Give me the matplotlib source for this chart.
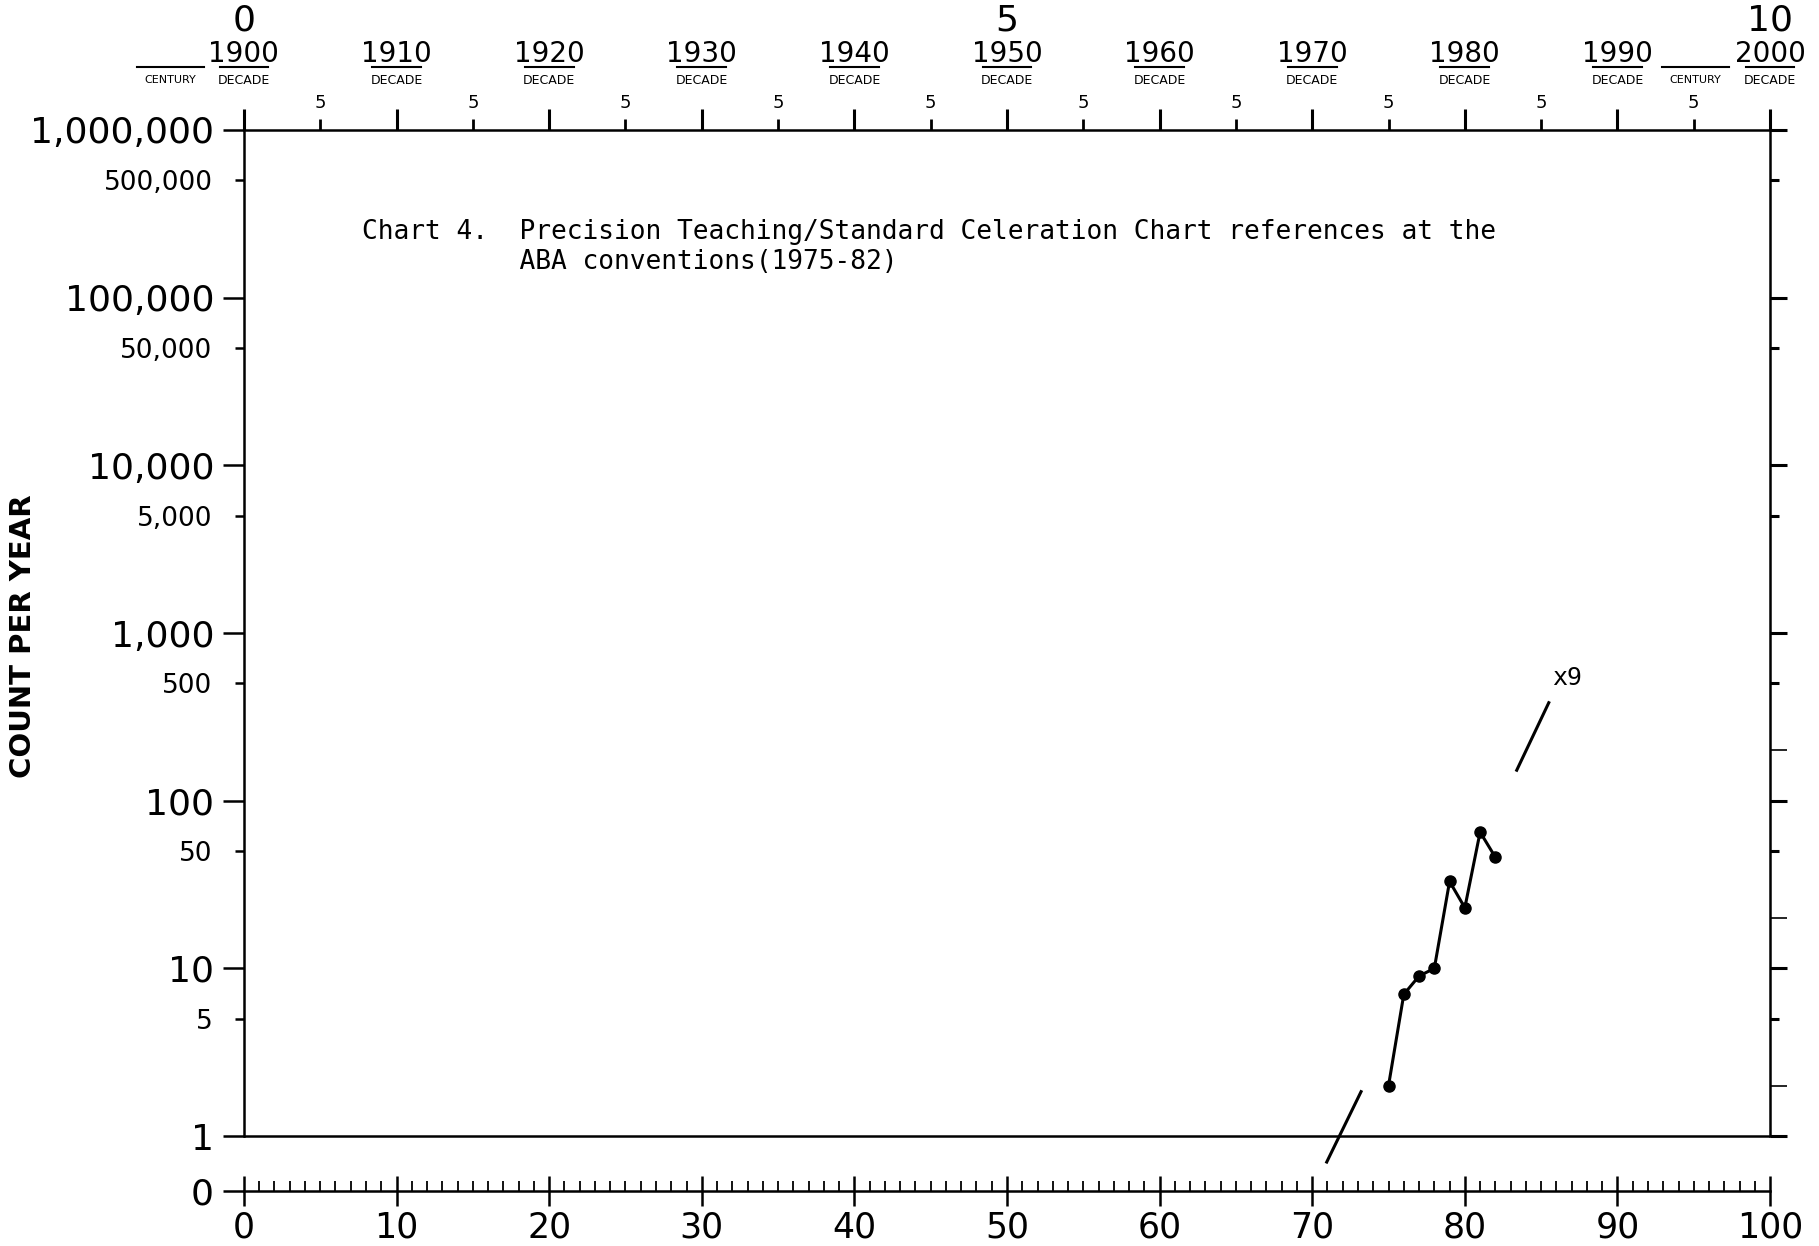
import numpy as np
import matplotlib.pyplot as plt
from matplotlib.ticker import FixedLocator, FixedFormatter, NullFormatter

# years counted from 1900, references per year at the ABA conventions
years = [75, 76, 77, 78, 79, 80, 81, 82]
counts = [2, 7, 9, 10, 33, 23, 65, 46]

# the two hand-drawn celeration line pieces and their label
cel_lower_x = [70.95, 73.2]
cel_lower_y = [0.70, 1.84]
cel_upper_x = [83.4, 85.5]
cel_upper_y = [152, 384]
cel_label = "x9"

decades = list(range(0, 101, 10))
decade_labels = [str(1900 + d) for d in decades]
century_pos = [0, 50, 100]
century_labels = ["0", "5", "10"]
halfdecades = list(range(5, 100, 10))

count_major = [1, 10, 100, 1000, 10000, 100000, 1000000]
count_major_labels = ["1", "10", "100", "1,000", "10,000", "100,000", "1,000,000"]
count_minor = [5, 50, 500, 5000, 50000, 500000]
count_minor_labels = ["5", "50", "500", "5,000", "50,000", "500,000"]
count_twos = [2, 20, 200]

title = ("Chart 4.  Precision Teaching/Standard Celeration Chart references at the\n"
         "          ABA conventions(1975-82)")

y_zero = 0.47  # where the "0" line sits under the log scale
mono = "DejaVu Sans Mono"
narrow = ["Liberation Sans Narrow", "DejaVu Sans"]

plt.rcParams['font.family'] = ['DejaVu Sans']

fig = plt.figure(figsize=(18.19, 12.46), dpi=100)
ax = fig.add_axes([0.1341, 0.0441, 0.839, 0.8516])
ax.set_yscale('log')
ax.set_xlim(0, 100)
ax.set_ylim(y_zero, 1e6)

for s in ax.spines.values():
    s.set_linewidth(1.8)
ax.spines['left'].set_bounds(1, 1e6)
ax.spines['right'].set_bounds(1, 1e6)
ax.axhline(1, color='k', lw=1.8)

# left count scale
ax.yaxis.set_ticks_position('left')
ax.yaxis.set_major_locator(FixedLocator([y_zero] + count_major))
ax.yaxis.set_major_formatter(FixedFormatter(["0"] + count_major_labels))
ax.yaxis.set_minor_locator(FixedLocator(count_minor))
ax.yaxis.set_minor_formatter(FixedFormatter(count_minor_labels))
ax.tick_params(axis='y', which='major', direction='out', length=15, width=1.8,
               pad=6.5, labelsize=26)
ax.tick_params(axis='y', which='minor', direction='out', length=6.5, width=1.8,
               pad=16, labelsize=19)

# bottom "0" line with a tick every year
ax.xaxis.set_ticks_position('bottom')
ax.xaxis.set_major_locator(FixedLocator(decades))
ax.xaxis.set_major_formatter(FixedFormatter([str(d) for d in decades]))
ax.xaxis.set_minor_locator(FixedLocator([d for d in range(101) if d % 10]))
ax.xaxis.set_minor_formatter(NullFormatter())
ax.tick_params(axis='x', which='major', direction='inout', length=22, width=1.8,
               pad=3, labelsize=25)
ax.tick_params(axis='x', which='minor', direction='in', length=7, width=1.3)

# top calendar scale
top = ax.secondary_xaxis('top')
top.spines['top'].set_visible(False)
top.xaxis.set_major_locator(FixedLocator(decades))
top.xaxis.set_major_formatter(NullFormatter())
top.xaxis.set_minor_locator(FixedLocator(halfdecades))
top.xaxis.set_minor_formatter(FixedFormatter(["5"] * len(halfdecades)))
top.tick_params(which='major', direction='out', length=15, width=2.2)
top.tick_params(which='minor', direction='out', length=8, width=2.0, pad=5,
                labelsize=13, labelfontfamily=narrow[0])

# right side ticks
for locs, minor, ln, wd in [(count_major, count_minor, 12, 2.2), (count_twos, [], 12, 1.2)]:
    tw = ax.twinx()
    tw.set_yscale('log')
    tw.set_ylim(y_zero, 1e6)
    for s in tw.spines.values():
        s.set_visible(False)
    tw.yaxis.set_major_locator(FixedLocator(locs))
    tw.yaxis.set_major_formatter(NullFormatter())
    tw.yaxis.set_minor_locator(FixedLocator(minor))
    tw.yaxis.set_minor_formatter(NullFormatter())
    tw.tick_params(which='major', direction='out', length=ln, width=wd)
    tw.tick_params(which='minor', direction='out', length=6.5, width=2.2)

trans = ax.get_xaxis_transform()
for d, lab in zip(decades, decade_labels):
    ax.text(d, 1.072, lab, transform=trans, ha='center', va='center',
            fontsize=20, family=narrow, clip_on=False)
    ax.plot([d - 1.6, d + 1.6], [1.059, 1.059], transform=trans, color='k',
            lw=1.5, clip_on=False)
    ax.text(d, 1.047, "DECADE", transform=trans, ha='center', va='center',
            fontsize=9, clip_on=False)
for d, lab in zip(century_pos, century_labels):
    ax.text(d, 1.103, lab, transform=trans, ha='center', va='center',
            fontsize=26, clip_on=False)
for cx in [-4.8, 95.1]:
    ax.text(cx, 1.047, "CENTURY", transform=trans, ha='center', va='center',
            fontsize=8, clip_on=False)
    ax.plot([cx - 2.2, cx + 2.2], [1.059, 1.059], transform=trans, color='k',
            lw=1.5, clip_on=False)

fig.text(0.0126, 0.4896, "COUNT PER YEAR", rotation=90, ha='center', va='center',
         fontsize=21, weight='bold')

ax.text(0.0773, 0.890, title, transform=ax.transAxes, ha='left', va='center',
        fontsize=18.9, family=mono, linespacing=1.2)

# data
ax.plot(years, counts, color='k', lw=2.2, marker='o', ms=8)
ax.plot(cel_lower_x, cel_lower_y, color='k', lw=2.2)
ax.plot(cel_upper_x, cel_upper_y, color='k', lw=2.2)
ax.text(86.7, 540, cel_label, ha='center', va='center', fontsize=18, family=mono)

fig.savefig("out.png", dpi=100)
